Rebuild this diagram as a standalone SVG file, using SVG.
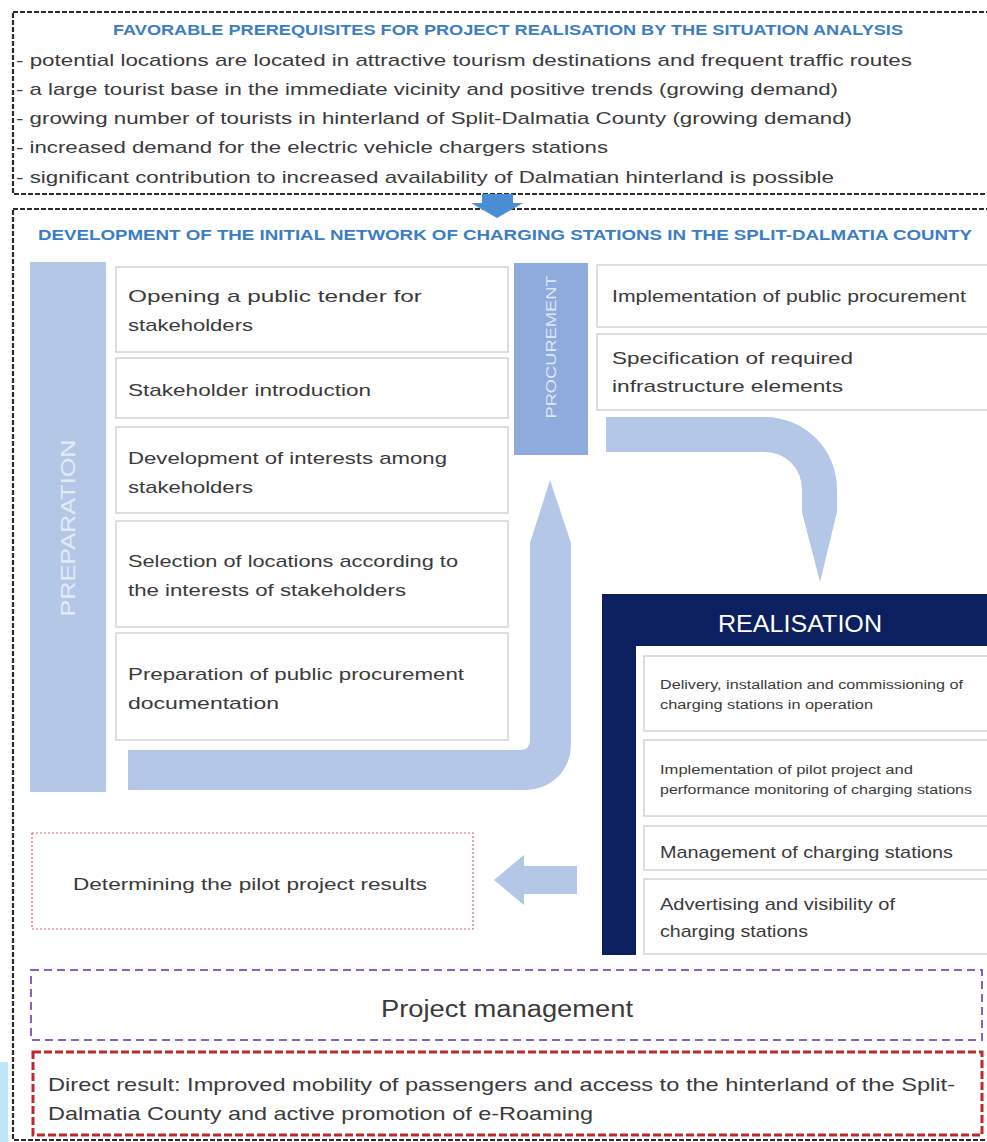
<svg xmlns="http://www.w3.org/2000/svg" width="987" height="1142" viewBox="0 0 987 1142">
<style>
text{font-family:"Liberation Sans",Arial,sans-serif;fill:#3a3a3a}
.t{font-size:17px}
.title{font-size:14px;font-weight:bold;fill:#3b7dc4}
.sm{font-size:12.5px}
.box{fill:#fff;stroke:#d4d4d4;stroke-width:1.5}
.lb{fill:#b4c7e7}
.frame{fill:none;stroke:#2b2b2b;stroke-width:2.2;stroke-dasharray:5 2}
</style>
<rect x="0" y="0" width="987" height="1142" fill="#fff"/>
<rect x="0" y="1062" width="8" height="80" fill="#bfe6f7"/>

<g id="prerequisites">
<rect class="frame" x="13" y="12" width="990" height="182"/>
<text class="title" x="508" y="35" text-anchor="middle" textLength="790" lengthAdjust="spacingAndGlyphs">FAVORABLE PREREQUISITES FOR PROJECT REALISATION BY THE SITUATION ANALYSIS</text>
<text class="t" x="16" y="66" textLength="896" lengthAdjust="spacingAndGlyphs">- potential locations are located in attractive tourism destinations and frequent traffic routes</text>
<text class="t" x="16" y="95" textLength="822" lengthAdjust="spacingAndGlyphs">- a large tourist base in the immediate vicinity and positive trends (growing demand)</text>
<text class="t" x="16" y="124" textLength="836" lengthAdjust="spacingAndGlyphs">- growing number of tourists in hinterland of Split-Dalmatia County (growing demand)</text>
<text class="t" x="16" y="153" textLength="592" lengthAdjust="spacingAndGlyphs">- increased demand for the electric vehicle chargers stations</text>
<text class="t" x="16" y="183" textLength="818" lengthAdjust="spacingAndGlyphs">- significant contribution to increased availability of Dalmatian hinterland is possible</text>
</g>

<g id="development">
<rect class="frame" x="13" y="209" width="990" height="931"/>
<text class="title" x="505" y="240" text-anchor="middle" textLength="934" lengthAdjust="spacingAndGlyphs">DEVELOPMENT OF THE INITIAL NETWORK OF CHARGING STATIONS IN THE SPLIT-DALMATIA COUNTY</text>
</g>

<g id="connectors">
<path d="M482,194 H513 V203 H523 L497,218 L471,203 H482 Z" fill="#4a8fd6"/>
<path class="lb" d="M128,750 H520 Q530,750 530,740 V543 L550,480 L571,543 V745 A45,45 0 0 1 526,790 H128 Z"/>
<path class="lb" d="M606,417 H765 A72,72 0 0 1 837,489 V512 L820,582 L802,512 V489 A37,37 0 0 0 765,452 H606 Z"/>
<path class="lb" d="M577,866 H524 V855 L494,880 L524,905 V894 H577 Z"/>
</g>

<g id="preparation">
<rect class="lb" x="30" y="262" width="76" height="530"/>
<text transform="translate(75,528) rotate(-90)" x="0" y="0" text-anchor="middle" font-size="20" style="fill:#e4ebf7" textLength="177" lengthAdjust="spacingAndGlyphs">PREPARATION</text>
</g>
<g id="prep1"><rect class="box" x="116" y="267" width="392" height="85"/>
<text class="t" x="128" y="302" textLength="294" lengthAdjust="spacingAndGlyphs">Opening a public tender for</text>
<text class="t" x="128" y="331" textLength="125" lengthAdjust="spacingAndGlyphs">stakeholders</text></g>
<g id="prep2"><rect class="box" x="116" y="358" width="392" height="60"/>
<text class="t" x="128" y="396" textLength="243" lengthAdjust="spacingAndGlyphs">Stakeholder introduction</text></g>
<g id="prep3"><rect class="box" x="116" y="427" width="392" height="86"/>
<text class="t" x="128" y="464" textLength="319" lengthAdjust="spacingAndGlyphs">Development of interests among</text>
<text class="t" x="128" y="493" textLength="125" lengthAdjust="spacingAndGlyphs">stakeholders</text></g>
<g id="prep4"><rect class="box" x="116" y="521" width="392" height="106"/>
<text class="t" x="128" y="567" textLength="330" lengthAdjust="spacingAndGlyphs">Selection of locations according to</text>
<text class="t" x="128" y="596" textLength="278" lengthAdjust="spacingAndGlyphs">the interests of stakeholders</text></g>
<g id="prep5"><rect class="box" x="116" y="633" width="392" height="107"/>
<text class="t" x="128" y="680" textLength="336" lengthAdjust="spacingAndGlyphs">Preparation of public procurement</text>
<text class="t" x="128" y="709" textLength="151" lengthAdjust="spacingAndGlyphs">documentation</text></g>

<g id="procurement">
<rect x="514" y="263" width="74" height="192" fill="#8faadc"/>
<text transform="translate(556,347) rotate(-90)" x="0" y="0" text-anchor="middle" font-size="15" style="fill:#dfe7f5" textLength="143" lengthAdjust="spacingAndGlyphs">PROCUREMENT</text>
</g>
<g id="proc1"><rect class="box" x="597" y="265" width="400" height="62"/>
<text class="t" x="612" y="302" textLength="354" lengthAdjust="spacingAndGlyphs">Implementation of public procurement</text></g>
<g id="proc2"><rect class="box" x="597" y="334" width="400" height="76"/>
<text class="t" x="612" y="364" textLength="241" lengthAdjust="spacingAndGlyphs">Specification of required</text>
<text class="t" x="612" y="392" textLength="231" lengthAdjust="spacingAndGlyphs">infrastructure elements</text></g>

<g id="realisation">
<path d="M602,594 H987 V646 H636 V955 H602 Z" fill="#0c1f5e"/>
<text x="800" y="632" text-anchor="middle" font-size="24" style="fill:#fff" textLength="164" lengthAdjust="spacingAndGlyphs">REALISATION</text>
</g>
<g id="real1"><rect class="box" x="644" y="656" width="353" height="75"/>
<text class="sm" x="660" y="689" textLength="303" lengthAdjust="spacingAndGlyphs">Delivery, installation and commissioning of</text>
<text class="sm" x="660" y="709" textLength="213" lengthAdjust="spacingAndGlyphs">charging stations in operation</text></g>
<g id="real2"><rect class="box" x="644" y="740" width="353" height="76"/>
<text class="sm" x="660" y="774" textLength="253" lengthAdjust="spacingAndGlyphs">Implementation of pilot project and</text>
<text class="sm" x="660" y="794" textLength="312" lengthAdjust="spacingAndGlyphs">performance monitoring of charging stations</text></g>
<g id="real3"><rect class="box" x="644" y="826" width="353" height="44"/>
<text class="t" x="660" y="858" textLength="293" lengthAdjust="spacingAndGlyphs">Management of charging stations</text></g>
<g id="real4"><rect class="box" x="644" y="879" width="353" height="75"/>
<text class="t" x="660" y="910" textLength="235" lengthAdjust="spacingAndGlyphs">Advertising and visibility of</text>
<text class="t" x="660" y="937" textLength="148" lengthAdjust="spacingAndGlyphs">charging stations</text></g>

<g id="results">
<rect x="32" y="833" width="441" height="96" fill="#fff" stroke="#e06666" stroke-width="1.2" stroke-dasharray="2 2"/>
<text class="t" x="73" y="890" textLength="354" lengthAdjust="spacingAndGlyphs">Determining the pilot project results</text>
</g>

<g id="management">
<rect x="31" y="970" width="951" height="70" fill="none" stroke="#8e5fc2" stroke-width="2" stroke-dasharray="8 5"/>
<text x="507" y="1017" text-anchor="middle" font-size="23" textLength="252" lengthAdjust="spacingAndGlyphs">Project management</text>
</g>

<g id="direct">
<rect x="33" y="1052" width="949" height="83" fill="none" stroke="#c0282d" stroke-width="3" stroke-dasharray="8 3"/>
<text x="48" y="1091" font-size="19" textLength="907" lengthAdjust="spacingAndGlyphs">Direct result: Improved  mobility of passengers and access to the hinterland of the Split-</text>
<text x="48" y="1120" font-size="19" textLength="545" lengthAdjust="spacingAndGlyphs">Dalmatia County and active promotion  of e-Roaming</text>
</g>
</svg>
